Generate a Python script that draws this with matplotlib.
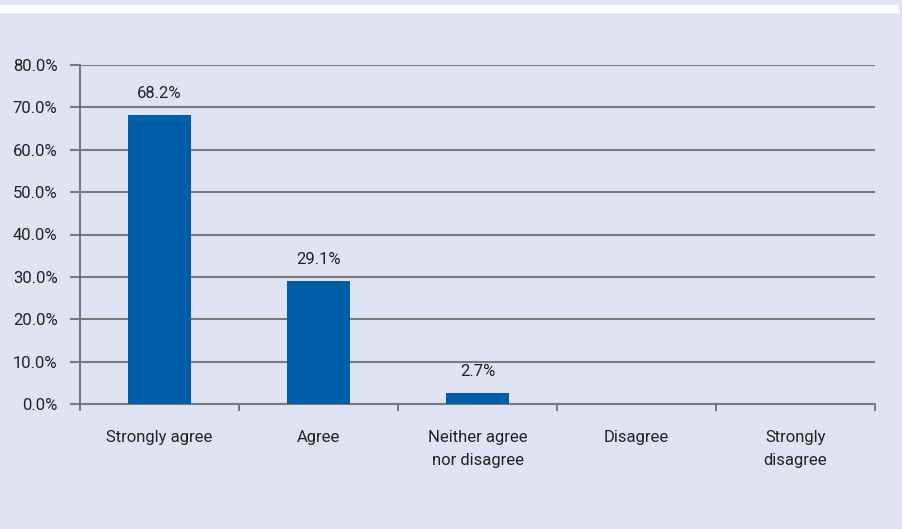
import matplotlib.pyplot as plt
import matplotlib.patches as mpatches
import numpy as np

# data
categories = ['Strongly agree', 'Agree', 'Neither agree\nnor disagree', 'Disagree', 'Strongly\ndisagree']
values = [68.2, 29.1, 2.7, 0.0, 0.0]

plt.rcParams['font.family'] = ['Roboto', 'DejaVu Sans']

bg = '#dfe3f3'
grid_c = '#7a7a7a'
bar_c = '#005ea8'
txt_c = '#222222'

fig = plt.figure(figsize=(9.02, 5.29), dpi=100, facecolor=bg)
ax = fig.add_axes([80 / 902, 1 - 404 / 529, 795 / 902, 339 / 529])
ax.set_facecolor(bg)

# white strip at top
fig.patches.append(mpatches.Rectangle((0, 1 - 12 / 529), 898 / 902, 7 / 529,
                                      transform=fig.transFigure, color='white', zorder=0))

x = np.arange(len(categories))
ax.bar(x, values, width=0.39, color=bar_c, zorder=3)

for xi, v in zip(x, values):
    if v > 0:
        ax.annotate(f'{v:.1f}%', (xi, v), xytext=(0, 10), textcoords='offset points',
                    ha='center', va='bottom', fontsize=12, color=txt_c)

ax.set_xlim(-0.5, len(categories) - 0.5)
ax.set_ylim(0, 80)
ax.set_yticks(np.arange(0, 81, 10))
ax.set_yticklabels([f'{t:.1f}%' for t in np.arange(0, 81, 10)])
ax.yaxis.grid(True, color=grid_c, linewidth=1.5, zorder=1)
ax.set_axisbelow(True)

ax.set_xticks(np.arange(-0.5, len(categories), 1.0))
ax.set_xticklabels([])
ax.set_xticks(x, minor=True)
ax.set_xticklabels(categories, minor=True)

for s in ['top', 'right']:
    ax.spines[s].set_visible(False)
for s in ['left', 'bottom']:
    ax.spines[s].set_color(grid_c)
    ax.spines[s].set_linewidth(1.5)

ax.tick_params(axis='y', length=7.2, width=1.5, color=grid_c, labelsize=12, labelcolor=txt_c, pad=9)
ax.tick_params(axis='x', which='major', length=5, width=1.5, color=grid_c)
ax.tick_params(axis='x', which='minor', length=0, pad=19, labelsize=12, labelcolor=txt_c)
for lab in ax.get_xticklabels(minor=True):
    lab.set_linespacing(1.65)

plt.savefig('out.png', dpi=100, facecolor=bg)
